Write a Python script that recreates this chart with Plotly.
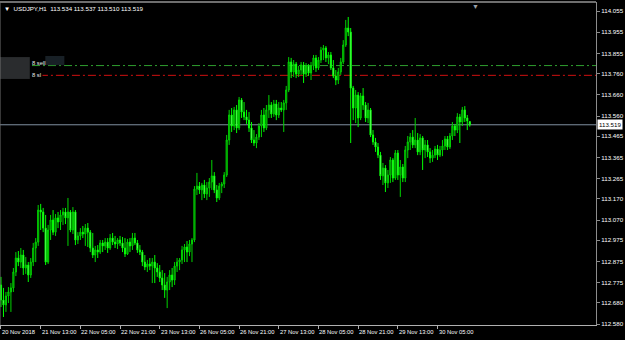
import plotly.graph_objects as go

# USDJPY H1 bars, 20 Nov 2018 21:00 .. 30 Nov 2018 18:00 (bar index = position on chart)
opens = [112.764,112.693,112.670,112.712,112.731,112.750,112.825,112.891,112.872,112.905,
 112.844,112.858,112.811,112.872,112.938,112.966,113.117,113.108,113.032,112.872,
 113.023,113.070,113.013,113.080,113.061,113.094,113.108,113.080,113.108,113.023,
 113.108,112.976,112.995,113.013,113.004,113.032,113.013,112.938,112.905,112.929,
 112.919,112.962,112.948,112.966,112.938,112.985,112.966,112.957,112.976,112.962,
 112.938,112.910,112.966,112.948,112.985,112.962,112.929,112.919,112.872,112.849,
 112.863,112.853,112.872,112.844,112.825,112.797,112.764,112.740,112.778,112.811,
 112.787,112.853,112.872,112.882,112.929,112.943,112.919,112.957,112.976,113.216,
 113.230,113.212,113.235,113.193,113.221,113.249,113.278,113.212,113.174,113.230,
 113.240,113.282,113.447,113.565,113.513,113.589,113.504,113.636,113.579,113.556,
 113.541,113.504,113.447,113.433,113.461,113.513,113.565,113.504,113.589,113.612,
 113.570,113.617,113.565,113.598,113.589,113.622,113.683,113.815,113.768,113.805,
 113.758,113.777,113.801,113.758,113.796,113.763,113.796,113.834,113.787,113.824,
 113.871,113.881,113.834,113.848,113.787,113.749,113.730,113.768,113.815,113.895,
 113.975,113.956,113.692,113.598,113.659,113.551,113.655,113.612,113.551,113.589,
 113.471,113.438,113.414,113.376,113.278,113.315,113.245,113.282,113.353,113.268,
 113.386,113.282,113.320,113.268,113.400,113.438,113.461,113.424,113.447,113.391,
 113.457,113.400,113.424,113.391,113.362,113.376,113.405,113.376,113.400,113.419,
 113.452,113.414,113.466,113.513,113.494,113.556,113.532,113.589,113.551,113.534]
highs = [112.802,112.750,112.731,112.754,112.773,112.844,112.919,112.924,112.938,112.929,
 112.896,112.872,112.891,112.962,112.985,113.141,113.146,113.127,113.094,113.047,
 113.094,113.117,113.098,113.108,113.117,113.127,113.127,113.174,113.117,113.131,
 113.117,113.013,113.032,113.042,113.051,113.056,113.023,113.009,112.948,112.952,
 112.976,112.976,112.985,112.985,113.004,113.009,112.995,112.985,112.995,112.990,
 112.985,112.981,112.985,113.009,113.009,112.976,112.952,112.929,112.905,112.882,
 112.891,112.891,112.905,112.867,112.858,112.834,112.820,112.802,112.834,112.844,
 112.872,112.891,112.891,112.948,112.957,112.971,112.976,112.985,113.230,113.292,
 113.249,113.245,113.259,113.249,113.268,113.353,113.296,113.235,113.245,113.249,
 113.296,113.471,113.589,113.598,113.603,113.612,113.650,113.645,113.626,113.589,
 113.579,113.532,113.494,113.475,113.527,113.589,113.598,113.612,113.659,113.626,
 113.636,113.636,113.626,113.626,113.636,113.702,113.838,113.834,113.824,113.815,
 113.796,113.815,113.815,113.810,113.805,113.815,113.848,113.848,113.838,113.886,
 113.895,113.890,113.862,113.862,113.824,113.777,113.787,113.834,113.918,114.013,
 114.027,113.975,113.702,113.683,113.673,113.669,113.692,113.626,113.622,113.598,
 113.494,113.457,113.433,113.391,113.339,113.329,113.306,113.367,113.362,113.400,
 113.400,113.353,113.334,113.419,113.466,113.480,113.494,113.551,113.480,113.475,
 113.466,113.447,113.447,113.409,113.400,113.419,113.424,113.419,113.447,113.466,
 113.466,113.480,113.532,113.523,113.574,113.570,113.603,113.607,113.565,113.537]
lows = [112.660,112.613,112.637,112.679,112.637,112.731,112.806,112.853,112.844,112.811,
 112.816,112.778,112.797,112.853,112.872,112.948,113.023,113.013,112.858,112.863,
 112.976,112.999,112.995,113.032,113.023,113.047,113.051,112.948,113.013,113.004,
 112.952,112.957,112.976,112.985,112.948,112.943,112.919,112.891,112.872,112.891,
 112.910,112.919,112.929,112.915,112.929,112.952,112.938,112.933,112.948,112.919,
 112.896,112.905,112.919,112.929,112.952,112.915,112.905,112.853,112.834,112.825,
 112.834,112.773,112.773,112.802,112.778,112.740,112.703,112.655,112.740,112.754,
 112.764,112.825,112.834,112.863,112.872,112.872,112.900,112.872,112.966,113.188,
 113.193,113.164,113.174,113.164,113.179,113.212,113.197,113.155,113.164,113.197,
 113.221,113.273,113.424,113.485,113.494,113.480,113.494,113.551,113.541,113.523,
 113.485,113.433,113.419,113.409,113.447,113.461,113.485,113.494,113.551,113.551,
 113.556,113.541,113.551,113.579,113.485,113.589,113.673,113.739,113.744,113.739,
 113.744,113.754,113.716,113.744,113.749,113.730,113.777,113.768,113.777,113.810,
 113.824,113.815,113.805,113.777,113.739,113.706,113.711,113.754,113.805,113.886,
 113.937,113.433,113.541,113.527,113.508,113.541,113.589,113.532,113.527,113.461,
 113.424,113.391,113.362,113.259,113.235,113.202,113.221,113.245,113.249,113.259,
 113.259,113.179,113.249,113.249,113.362,113.400,113.409,113.409,113.376,113.376,
 113.306,113.362,113.367,113.339,113.344,113.362,113.353,113.367,113.371,113.400,
 113.400,113.405,113.447,113.466,113.480,113.433,113.513,113.532,113.494,113.510]
closes = [112.693,112.670,112.712,112.731,112.750,112.825,112.891,112.872,112.905,112.844,
 112.858,112.811,112.872,112.938,112.966,113.117,113.108,113.032,112.872,113.023,
 113.070,113.013,113.080,113.061,113.094,113.108,113.080,113.108,113.023,113.108,
 112.976,112.995,113.013,113.004,113.032,113.013,112.938,112.905,112.929,112.919,
 112.962,112.948,112.966,112.938,112.985,112.966,112.957,112.976,112.962,112.938,
 112.910,112.966,112.948,112.985,112.962,112.929,112.919,112.872,112.849,112.863,
 112.853,112.872,112.844,112.825,112.797,112.764,112.740,112.778,112.811,112.787,
 112.853,112.872,112.882,112.929,112.943,112.919,112.957,112.976,113.216,113.230,
 113.212,113.235,113.193,113.221,113.249,113.278,113.212,113.174,113.230,113.240,
 113.282,113.447,113.565,113.513,113.589,113.504,113.636,113.579,113.556,113.541,
 113.504,113.447,113.433,113.461,113.513,113.565,113.504,113.589,113.612,113.570,
 113.617,113.565,113.598,113.589,113.622,113.683,113.815,113.768,113.805,113.758,
 113.777,113.801,113.758,113.796,113.763,113.796,113.834,113.787,113.824,113.871,
 113.881,113.834,113.848,113.787,113.749,113.730,113.768,113.815,113.895,113.975,
 113.956,113.692,113.598,113.659,113.551,113.655,113.612,113.551,113.589,113.471,
 113.438,113.414,113.376,113.278,113.315,113.245,113.282,113.353,113.268,113.386,
 113.282,113.320,113.268,113.400,113.438,113.461,113.424,113.447,113.391,113.457,
 113.400,113.424,113.391,113.362,113.376,113.405,113.376,113.400,113.419,113.452,
 113.414,113.466,113.513,113.494,113.556,113.532,113.589,113.551,113.537,113.519]

bar_index = list(range(len(closes)))

time_ticks = [0, 16, 32, 48, 64, 80, 96, 112, 128, 144, 160, 176]
time_labels = ["20 Nov 2018", "21 Nov 13:00", "22 Nov 05:00", "22 Nov 21:00",
               "23 Nov 13:00", "26 Nov 05:00", "26 Nov 21:00", "27 Nov 13:00",
               "28 Nov 05:00", "28 Nov 21:00", "29 Nov 13:00", "30 Nov 05:00"]

price_ticks = [114.055, 113.955, 113.855, 113.760, 113.660, 113.560, 113.465, 113.365,
               113.265, 113.170, 113.070, 112.975, 112.875, 112.775, 112.680, 112.580]
price_labels = ["%.3f" % v for v in price_ticks]

tp_level = 113.798   # "8 sell" order line
sl_level = 113.752   # "8 sl" line
last_price = 113.519
header = "USDJPY,H1  113.534 113.537 113.510 113.519"

FONT = "Liberation Sans"
fig = go.Figure()
fig.add_trace(go.Candlestick(
    x=bar_index, open=opens, high=highs, low=lows, close=closes,
    increasing=dict(line=dict(color="#00d400", width=1), fillcolor="#005a00"),
    decreasing=dict(line=dict(color="#00ff00", width=1), fillcolor="#d8ffd8"),
    whiskerwidth=0, hoverinfo="skip", showlegend=False))

shapes = [
    dict(type="line", xref="paper", x0=0, x1=1, yref="y", y0=tp_level, y1=tp_level,
         line=dict(color="#2e9e2e", width=1, dash="8px,3px,2px,3px"), layer="below"),
    dict(type="line", xref="paper", x0=0.067, x1=1, yref="y", y0=sl_level, y1=sl_level,
         line=dict(color="#d01010", width=1, dash="8px,3px,2px,3px"), layer="below"),
    dict(type="line", xref="paper", x0=0, x1=1, yref="y", y0=last_price, y1=last_price,
         line=dict(color="#7f8fa0", width=1), layer="below"),
    dict(type="rect", xref="paper", x0=0, x1=0.05, yref="y", y0=113.735, y1=113.838,
         fillcolor="#2a2c2e", line=dict(width=0), layer="above"),
    dict(type="rect", xref="paper", x0=0.076, x1=0.108, yref="y", y0=113.800, y1=113.843,
         fillcolor="#182026", line=dict(width=0), layer="above"),
    dict(type="line", xref="paper", x0=0, x1=1, yref="paper", y0=1, y1=1,
         line=dict(color="#6e6e6e", width=2)),
]

annotations = [
    dict(text="\u25bc  " + header, xref="paper", yref="paper", x=0.004, y=1, xanchor="left",
         yanchor="top", yshift=-1, showarrow=False, font=dict(family=FONT, size=6.2, color="#ffffff")),
    dict(text="8 sell", xref="paper", yref="y", x=0.051, y=113.812, xanchor="left", yanchor="middle",
         showarrow=False, font=dict(family=FONT, size=5.8, color="#e8e8e8")),
    dict(text="8 sl", xref="paper", yref="y", x=0.051, y=113.752, xanchor="left", yanchor="middle",
         showarrow=False, font=dict(family=FONT, size=5.8, color="#e8e8e8"), bgcolor="#000000"),
    dict(text="113.519", xref="paper", yref="y", x=1, y=last_price, xanchor="left", yanchor="middle",
         xshift=1, showarrow=False, bgcolor="#ffffff", borderpad=1,
         font=dict(family=FONT, size=6.2, color="#000000")),
    dict(text="\u25bc", xref="x", yref="paper", x=191.5, y=1, xanchor="center", yanchor="top",
         yshift=1, showarrow=False, font=dict(family=FONT, size=7, color="#9aa0a8")),
]
for xv, lab in zip(time_ticks, time_labels):
    annotations.append(dict(text=lab, xref="x", yref="paper", x=xv, y=0, xanchor="left",
                            yanchor="top", xshift=-1, yshift=-2, showarrow=False,
                            font=dict(family=FONT, size=5.8, color="#ffffff")))

fig.update_layout(
    width=625, height=340, margin=dict(l=0, r=29, t=2, b=15),
    paper_bgcolor="#000000", plot_bgcolor="#000000",
    boxgap=0.35, shapes=shapes, annotations=annotations,
    xaxis=dict(range=[-0.4, 239.9], rangeslider=dict(visible=False), showgrid=False,
               zeroline=False, showline=True, linecolor="#b0b0b0", linewidth=1, mirror=False,
               tickmode="array", tickvals=time_ticks, ticktext=[""] * len(time_ticks),
               ticks="outside", ticklen=3, tickcolor="#b0b0b0", fixedrange=True),
    yaxis=dict(range=[112.5753, 114.0976], side="right", showgrid=False, zeroline=False,
               showline=True, linecolor="#8c8c8c", linewidth=1,
               tickmode="array", tickvals=price_ticks, ticktext=price_labels,
               ticks="outside", ticklen=3, tickcolor="#8c8c8c",
               tickfont=dict(family=FONT, size=6.2, color="#ffffff"), fixedrange=True),
    font=dict(family=FONT, color="#ffffff"),
)
fig.add_shape(type="line", xref="paper", yref="paper", x0=0, x1=0, y0=0, y1=1,
              line=dict(color="#6e6e6e", width=1))

fig.write_html("out.html")
